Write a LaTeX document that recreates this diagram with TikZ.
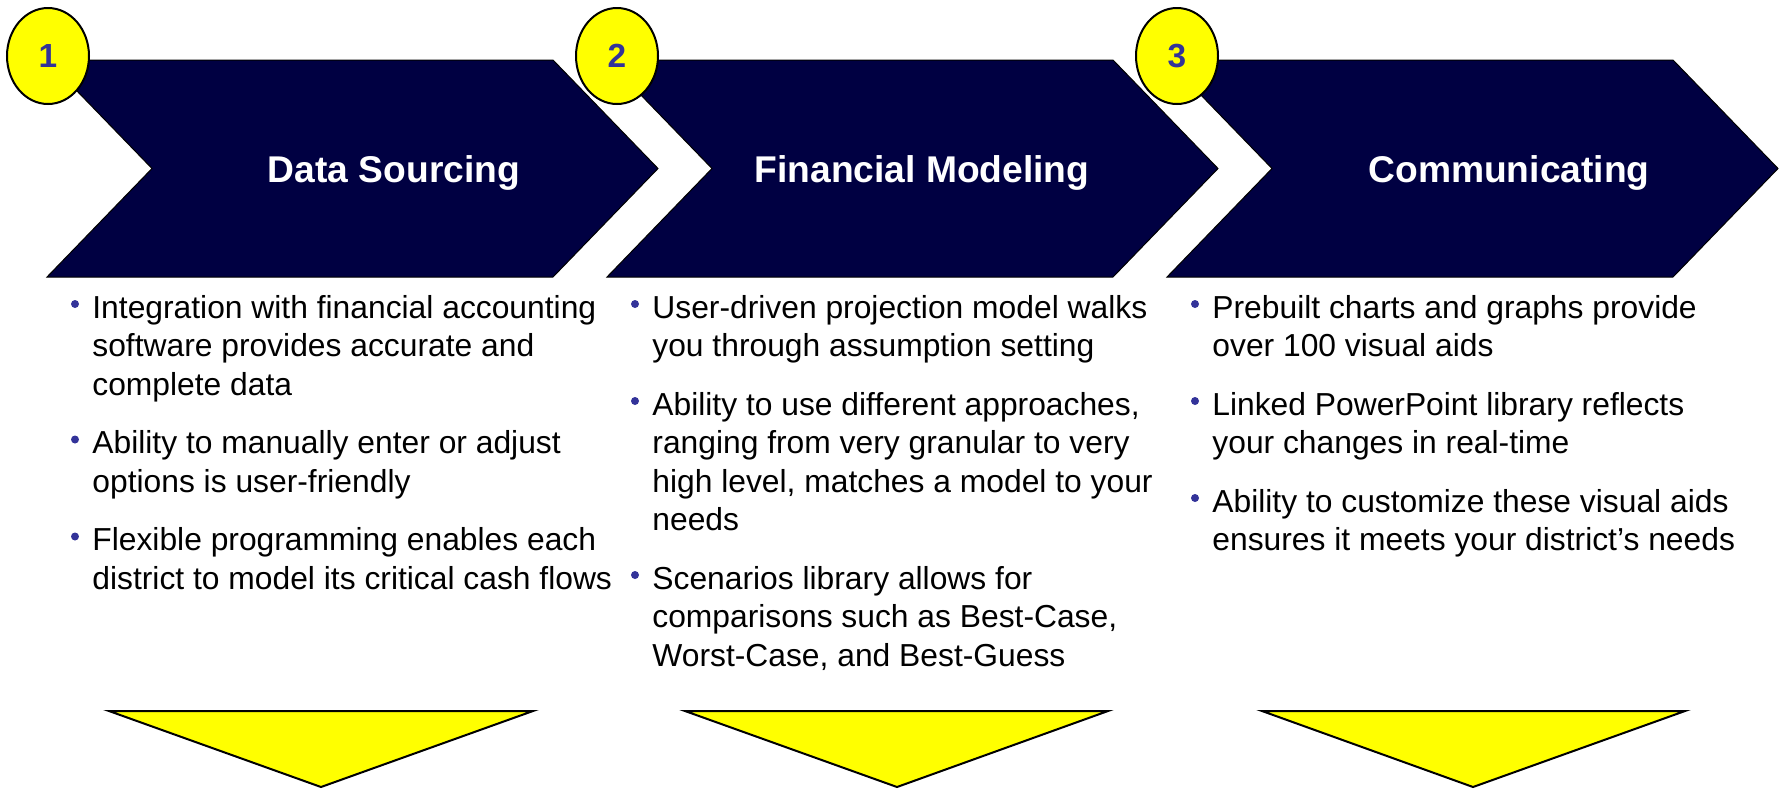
\documentclass[tikz,border=0pt]{standalone}
\usepackage{fontspec}
\setmainfont{Liberation Sans}
\usepackage{tikz}
\usetikzlibrary{shapes.geometric}
\definecolor{navy}{RGB}{0,0,66}
\definecolor{hiyellow}{RGB}{255,255,0}
\definecolor{numblue}{RGB}{51,51,153}
\newcommand\bulletlines[1]{\begin{tabular}[t]{@{}l@{}}#1\end{tabular}}

\begin{document}
\begin{tikzpicture}[x=0.5pt,y=-0.5pt,
    chev/.style={fill=navy,draw=black,line width=0.5pt},
    numdisc/.style={ellipse,fill=hiyellow,draw=black,line width=1pt,minimum width=41pt,minimum height=48pt,inner sep=0pt,
      text=numblue,font=\fontsize{16.7}{20}\selectfont\bfseries},
    stagetitle/.style={anchor=base,text=white,inner sep=0pt,font=\fontsize{18.6}{22}\selectfont\bfseries},
    bulltext/.style={anchor=base west,inner sep=0pt,font=\fontsize{15.9}{19.25}\selectfont},
    dot/.style={circle,fill=numblue,inner sep=0pt,minimum size=4pt},
    downtri/.style={fill=hiyellow,draw=black,line width=1pt,line join=miter}]
  \useasboundingbox (0,0) rectangle (1781,788);
    % chevrons
    \draw[chev](47,60)--(553,60)--(658,168.5)--(553,277)--(47,277)--(152,168.5)--cycle;
    \draw[chev](607,60)--(1113,60)--(1218,168.5)--(1113,277)--(607,277)--(712,168.5)--cycle;
    \draw[chev](1167,60)--(1673,60)--(1778,168.5)--(1673,277)--(1167,277)--(1272,168.5)--cycle;
    \node[numdisc] (num1) at (48,56) {1};
    \node[numdisc] (num2) at (617,56) {2};
    \node[numdisc] (num3) at (1177,56) {3};
    \node[stagetitle] (sourcing) at (394,182) {Data Sourcing};
    \node[stagetitle] (modeling) at (922,182) {Financial Modeling};
    \node[stagetitle] (communic) at (1509,182) {Communicating};
    % bullets, column 1
    \node[bulltext] (src1) at (92,318) {\bulletlines{Integration with financial accounting\\software provides accurate and\\complete data}};
    \node[bulltext] (src2) at (92,453.5) {\bulletlines{Ability to manually enter or adjust\\options is user-friendly}};
    \node[bulltext] (src3) at (92,550.5) {\bulletlines{Flexible programming enables each\\district to model its critical cash flows}};
    % bullets, column 2
    \node[bulltext] (mod1) at (652,318) {\bulletlines{User-driven projection model walks\\you through assumption setting}};
    \node[bulltext] (mod2) at (652,415) {\bulletlines{Ability to use different approaches,\\ranging from very granular to very\\high level, matches a model to your\\needs}};
    \node[bulltext] (mod3) at (652,589) {\bulletlines{Scenarios library allows for\\comparisons such as Best-Case,\\Worst-Case, and Best-Guess}};
    % bullets, column 3
    \node[bulltext] (com1) at (1212,318) {\bulletlines{Prebuilt charts and graphs provide\\over 100 visual aids}};
    \node[bulltext] (com2) at (1212,415) {\bulletlines{Linked PowerPoint library reflects\\your changes in real-time}};
    \node[bulltext] (com3) at (1212,512) {\bulletlines{Ability to customize these visual aids\\ensures it meets your district’s needs}};
    \node[dot] at (75,304) {}; \node[dot] at (75,439.5) {}; \node[dot] at (75,536.5) {};
    \node[dot] at (635,304) {}; \node[dot] at (635,401) {}; \node[dot] at (635,575) {};
    \node[dot] at (1195,304) {}; \node[dot] at (1195,401) {}; \node[dot] at (1195,498) {};
    % down triangles
    \draw[downtri](109,711)--(533,711)--(321,787)--cycle;
    \draw[downtri](685,711)--(1108,711)--(897,787)--cycle;
    \draw[downtri](1262,711)--(1685,711)--(1473,787)--cycle;
  \end{tikzpicture}
\end{document}
